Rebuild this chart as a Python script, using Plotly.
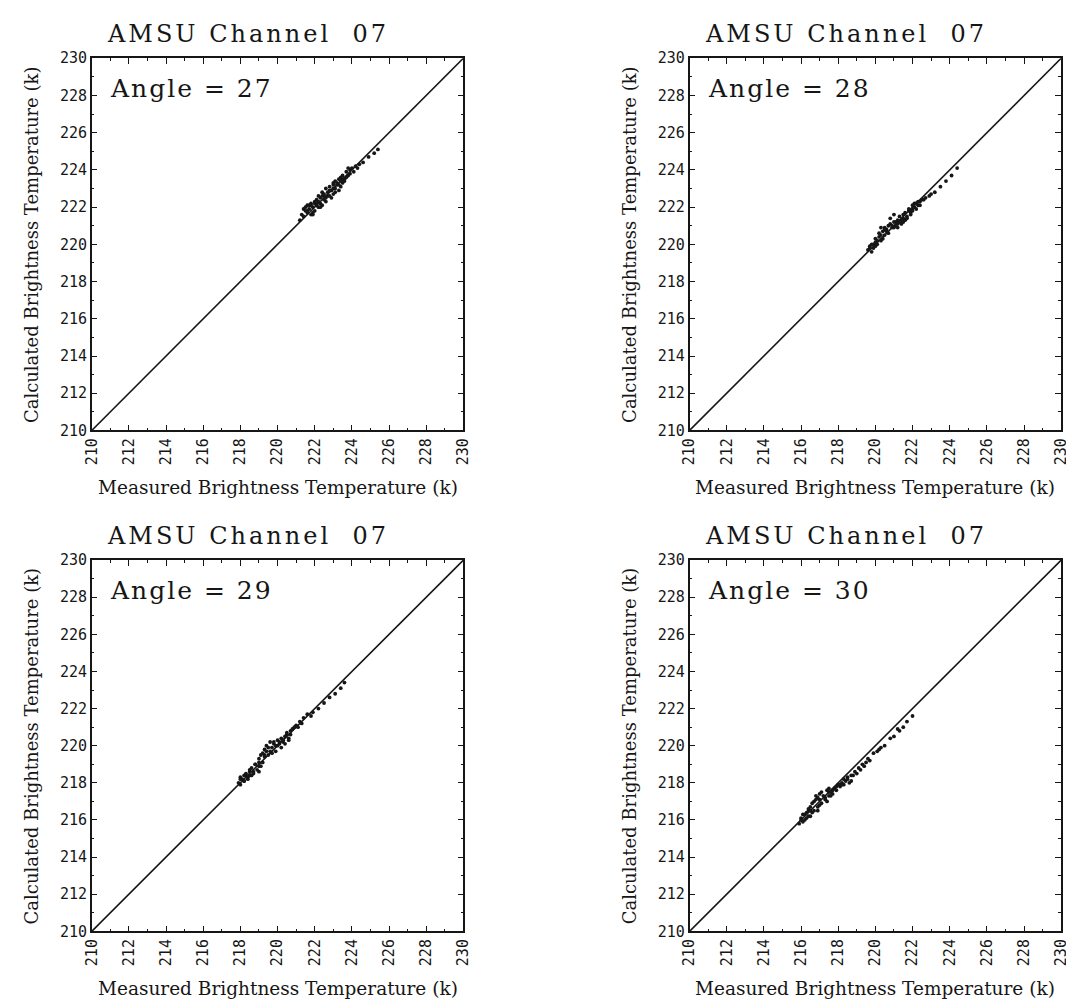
import plotly.graph_objects as go

# ---- data ----
angles = ["27", "28", "29", "30"]
title_text = "AMSU Channel\u00a0 07"
axis_range = [210, 230]
tick_vals = [210, 212, 214, 216, 218, 220, 222, 224, 226, 228, 230]
tick_labels = ["210", "212", "214", "216", "218", "220", "222", "224", "226", "228", "230"]
line_x = [210, 230]
line_y = [210, 230]

m27 = [221.3,221.4,221.4,221.5,221.6,221.6,221.7,221.8,221.8,221.9,222.0,222.0,222.1,222.1,222.2,222.3,222.3,222.4,222.5,222.5,222.6,222.6,222.7,222.8,222.8,222.9,223.0,223.0,223.1,223.1,223.2,223.3,223.3,223.4,223.5,223.5,223.6,223.7,223.8,223.9,224.0,224.1,224.2,224.4,224.6,224.9,225.2,225.4,221.2,222.4,222.9,223.4,222.2,221.9,
       221.5,221.7,221.9,222.0,222.2,222.3,222.5,222.6,222.8,223.0,223.1,223.3,223.4,223.6,223.7,223.9,221.6,222.1,222.7,223.2,223.8,224.3,221.8,222.4,223.0,223.5]
c27 = [221.6,221.9,221.5,222.0,221.7,222.1,221.9,222.2,221.6,222.0,222.3,221.8,222.4,222.1,222.6,222.2,222.5,222.8,222.4,222.7,222.5,223.0,222.8,222.6,223.1,222.9,223.3,222.7,223.0,223.4,223.2,223.5,222.9,223.6,223.3,223.7,223.5,223.9,223.7,224.0,224.1,223.9,224.2,224.3,224.4,224.7,224.9,225.1,221.3,222.1,222.5,223.1,222.0,221.6,
       221.8,222.1,221.7,222.2,222.3,222.0,222.6,222.3,222.9,223.0,222.8,223.2,223.4,223.4,223.6,223.8,221.8,222.2,222.6,223.3,224.1,224.1,222.1,222.6,223.2,223.5]

m28 = [219.6,219.7,219.8,219.8,219.9,220.0,220.0,220.1,220.2,220.2,220.3,220.4,220.5,220.5,220.6,220.7,220.8,220.9,221.0,221.0,221.1,221.2,221.3,221.3,221.4,221.5,221.6,221.6,221.7,221.8,221.9,222.0,222.0,222.1,222.2,222.3,222.4,222.5,222.7,222.9,223.2,223.5,223.8,224.1,224.4,220.3,220.8,221.2,221.5,221.9,222.2,221.0,
       219.7,219.9,220.1,220.3,220.4,220.6,220.9,221.1,221.4,221.7,221.8,222.0,222.1,222.3,222.4,222.6,220.0,220.5,221.2,221.9,222.2,223.0,220.7,221.5]
c28 = [219.7,219.9,219.6,220.0,219.8,220.1,220.3,220.0,220.4,220.6,220.2,220.7,220.5,220.9,220.8,220.6,221.1,221.0,221.2,220.9,221.0,221.3,221.2,221.5,221.1,221.4,221.3,221.7,221.4,221.8,221.7,221.9,222.1,222.0,222.2,222.1,222.3,222.4,222.5,222.6,222.8,223.1,223.4,223.7,224.1,220.9,221.4,220.9,221.2,221.6,221.9,221.6,
       219.8,220.0,220.2,220.5,220.3,220.7,220.9,221.2,221.3,221.5,221.9,221.8,222.2,222.3,222.1,222.4,219.9,220.8,221.1,221.8,222.2,222.7,221.0,221.6]

m29 = [217.9,218.0,218.0,218.1,218.2,218.2,218.3,218.4,218.5,218.5,218.6,218.7,218.8,218.9,219.0,219.0,219.1,219.2,219.3,219.3,219.4,219.5,219.6,219.6,219.7,219.8,219.9,220.0,220.0,220.1,220.2,220.3,220.4,220.5,220.6,220.7,220.8,221.0,221.2,221.4,221.6,221.9,222.2,222.5,222.8,223.1,223.4,223.6,219.0,219.4,220.2,220.6,218.6,
       218.0,218.2,218.3,218.5,218.7,218.8,219.0,219.1,219.3,219.5,219.7,219.9,220.1,220.3,220.5,220.7,220.9,221.1,218.4,219.2,219.8,220.4,221.3,221.8]
c29 = [218.0,218.3,217.9,218.2,218.4,218.1,218.5,218.3,218.7,218.4,218.8,218.5,219.0,218.7,219.3,218.9,219.5,219.1,219.8,219.4,220.0,219.5,220.2,219.7,219.9,220.1,219.7,220.3,220.0,220.1,220.4,220.2,220.5,220.6,220.4,220.8,220.9,221.1,221.3,221.5,221.7,221.8,222.0,222.3,222.6,222.8,223.1,223.4,218.6,219.7,219.9,220.3,218.4,
       218.2,218.1,218.4,218.6,218.6,219.0,219.1,218.9,219.5,219.9,219.6,220.0,220.2,220.3,220.7,220.6,221.0,221.0,218.2,219.6,220.2,220.1,221.2,221.6]

m30 = [215.9,216.0,216.1,216.1,216.2,216.3,216.4,216.4,216.5,216.6,216.7,216.7,216.8,216.9,217.0,217.0,217.1,217.2,217.3,217.4,217.5,217.5,217.6,217.7,217.8,217.9,218.0,218.1,218.2,218.3,218.4,218.5,218.6,218.8,218.9,219.0,219.2,219.3,219.5,219.7,219.9,220.1,220.3,220.5,220.8,221.0,221.2,221.5,221.7,222.0,216.5,216.9,217.4,218.7,219.4,
       216.0,216.2,216.3,216.5,216.6,216.8,217.0,217.1,217.3,217.5,217.7,217.9,218.1,218.3,218.5,218.7,219.1,219.6,216.4,216.9,217.6,218.2,220.2,221.3]
c30 = [215.8,216.1,215.9,216.3,216.0,216.4,216.2,216.6,216.5,216.9,216.5,217.0,217.3,216.7,217.1,217.4,216.9,217.3,217.1,217.6,217.3,217.7,217.5,217.4,217.7,217.6,217.9,217.8,218.0,217.9,218.1,218.3,218.0,218.4,218.6,218.5,218.7,219.0,219.1,219.2,219.6,219.7,219.9,220.0,220.4,220.5,220.9,221.0,221.3,221.6,216.2,216.5,217.0,218.1,218.9,
       216.0,216.3,216.1,216.7,216.4,217.1,216.8,217.5,217.2,217.5,217.6,217.8,217.9,218.2,218.2,218.4,218.8,219.3,216.5,217.2,217.3,217.9,219.8,220.8]

measured = [m27, m28, m29, m30]
calculated = [c27, c28, c29, c30]

x_title = "Measured Brightness Temperature (k)"
y_title = "Calculated Brightness Temperature (k)"

# ---- layout geometry ----
W, H = 1074, 1005
x_domains = [[76 / W, 454 / W], [684 / W, 1062 / W]]
y_domains = [[1 - 421 / H, 1 - 42 / H], [1 - 931 / H, 1 - 553 / H]]

SERIF = "DejaVu Serif, Liberation Serif, serif"
MONO = "DejaVu Sans Mono, Liberation Mono, monospace"
INK = "#161616"

fig = go.Figure()
layout = dict(
    width=W, height=H, autosize=False,
    margin=dict(l=0, r=0, t=0, b=0),
    paper_bgcolor="white", plot_bgcolor="white",
    showlegend=False,
)
annotations = []

for i in range(4):
    row, col = divmod(i, 2)
    suffix = "" if i == 0 else str(i + 1)
    xa, ya = "x" + suffix, "y" + suffix
    fig.add_trace(go.Scatter(x=line_x, y=line_y, mode="lines",
                             line=dict(color=INK, width=1.6),
                             xaxis=xa, yaxis=ya, hoverinfo="skip"))
    fig.add_trace(go.Scatter(x=measured[i], y=calculated[i], mode="markers",
                             marker=dict(color=INK, size=3.8, line=dict(width=0)),
                             xaxis=xa, yaxis=ya))
    common = dict(range=axis_range, showgrid=False, zeroline=False,
                  showline=True, linecolor=INK, linewidth=1.5,
                  mirror="allticks", ticks="inside", ticklen=6, tickwidth=1.2,
                  tickcolor=INK,
                  tickvals=tick_vals, ticktext=tick_labels,
                  tickfont=dict(family=MONO, size=15, color=INK),
                  minor=dict(dtick=1, tick0=210, ticks="inside", ticklen=3,
                             tickwidth=1, tickcolor=INK),
                  fixedrange=True)
    layout["xaxis" + suffix] = dict(common, domain=x_domains[col], anchor=ya,
                                    tickangle=-90)
    layout["yaxis" + suffix] = dict(common, domain=y_domains[row], anchor=xa)
    xr, yr = xa + " domain", ya + " domain"
    annotations.append(dict(
        text='<span style="letter-spacing:3px">' + title_text + "</span>",
        xref=xr, yref=yr, x=0, y=1, xanchor="left",
        yanchor="bottom", xshift=13, yshift=8, showarrow=False,
        font=dict(family=SERIF, size=24, color=INK)))
    annotations.append(dict(
        text='<span style="letter-spacing:2px">Angle = ' + angles[i] + "</span>",
        xref=xr, yref=yr, x=0, y=1,
        xanchor="left", yanchor="top", xshift=16, yshift=-14, showarrow=False,
        font=dict(family=SERIF, size=25, color=INK)))
    annotations.append(dict(
        text=x_title, xref=xr, yref=yr, x=0.5, y=0, xanchor="center",
        yanchor="top", yshift=-45, showarrow=False,
        font=dict(family=SERIF, size=18.5, color=INK)))
    annotations.append(dict(
        text=y_title, xref=xr, yref=yr, x=0, y=0.5, xanchor="center",
        yanchor="middle", xshift=-60, textangle=-90, showarrow=False,
        font=dict(family=SERIF, size=18, color=INK)))

layout["annotations"] = annotations
fig.update_layout(**layout)
fig.write_html("out.html")
